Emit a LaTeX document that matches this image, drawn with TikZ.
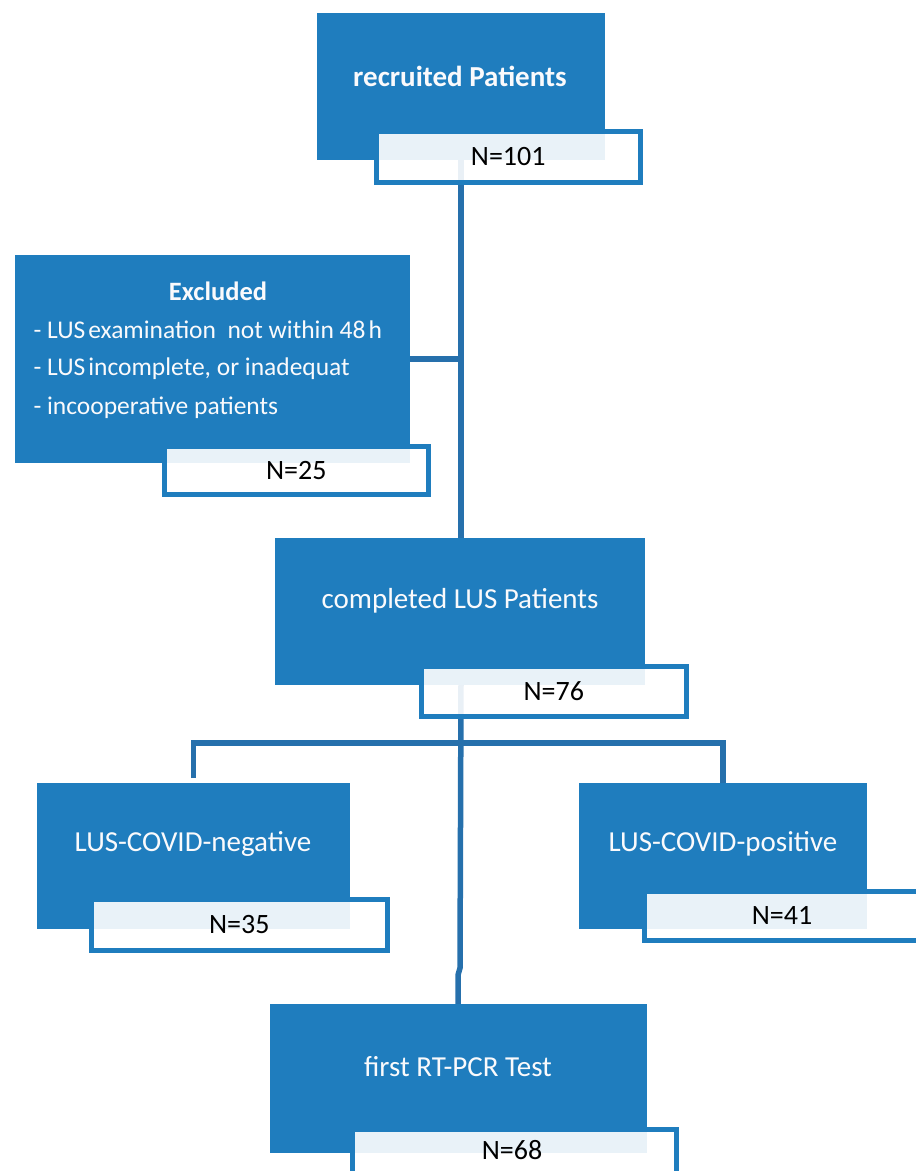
\documentclass[tikz,border=0pt]{standalone}
\usepackage{fontspec}
\setmainfont{Carlito}
\definecolor{boxblue}{RGB}{31,125,190}
\definecolor{lineblue}{RGB}{38,112,172}
\definecolor{txtwhite}{RGB}{250,250,252}
\tikzset{
  bluebox/.style={fill=boxblue, draw=none, inner sep=0pt, anchor=north west},
  nbox/.style={fill=white, fill opacity=0.9, text opacity=1, draw=boxblue, line width=4.5pt, inner sep=0pt, anchor=north west, font=\fontsize{28}{32}\selectfont},
  conn/.style={draw=lineblue, line width=5.5pt},
  btitle/.style={text=txtwhite, font=\fontsize{29}{34}\selectfont\bfseries},
  btext/.style={text=txtwhite, font=\fontsize{29}{34}\selectfont},
  ltext/.style={text=txtwhite, font=\fontsize{25.5}{30}\selectfont, anchor=west},
}
\begin{document}
\begin{tikzpicture}[x=1pt,y=-1pt]
\useasboundingbox (0,0) rectangle (916,1171);
% blue boxes (coordinates only, drawn later)
\path (317,13) node[bluebox, minimum width=288pt, minimum height=147pt] (rec) {};
\path (15,255) node[bluebox, minimum width=395pt, minimum height=208pt] (exc) {};
\path (275,538) node[bluebox, minimum width=370pt, minimum height=147pt] (comp) {};
\path (37,783) node[bluebox, minimum width=313pt, minimum height=146pt] (neg) {};
\path (579,783) node[bluebox, minimum width=288pt, minimum height=146pt] (pos) {};
\path (270,1004) node[bluebox, minimum width=377pt, minimum height=149pt] (rt) {};
% connectors
\coordinate (top) at (461,160);
\coordinate (cmid) at (461,685);
\coordinate (br) at (461,743);
\draw[conn] (top) -- (top |- comp.north);
\draw[conn] (exc.east) -- (exc.east -| top);
\draw[conn, shorten <=5pt] (neg.north) |- (br) -| ([yshift=-5pt]pos.north);
\draw[conn] (cmid) -- (460,968) -- (458,975) -- ([yshift=-5pt]rt.north -| 458,0);
% redraw blue boxes on top of connectors
\path (317,13) node[bluebox, minimum width=288pt, minimum height=147pt] {};
\path (15,255) node[bluebox, minimum width=395pt, minimum height=208pt] {};
\path (275,538) node[bluebox, minimum width=370pt, minimum height=147pt] {};
\path (37,783) node[bluebox, minimum width=313pt, minimum height=146pt] {};
\path (579,783) node[bluebox, minimum width=288pt, minimum height=146pt] {};
\path (270,1004) node[bluebox, minimum width=377pt, minimum height=149pt] {};
% texts
\node[btitle] (trec) at (460,76) {recruited Patients};
\node[btitle, font=\fontsize{26.5}{30}\selectfont\bfseries] (texc) at (218,291) {Excluded};
\node[ltext] (l1) at (30,330) {- LUS\kern3pt examination\ \ not within 48\kern3pt h};
\node[ltext] (l2) at (30,369) {- LUS\kern3pt incomplete, or inadequat};
\node[ltext] (l3) at (30,408) {- incooperative patients};
\node[btext] (tcomp) at (460,601) {completed LUS Patients};
\node[btext] (tneg) at (193,844) {LUS-COVID-negative};
\node[btext] (tpos) at (723,844) {LUS-COVID-positive};
\node[btext] (trt) at (458,1067) {first RT-PCR Test};
% N boxes
\path (374,129) node[nbox, minimum width=264pt, minimum height=51pt] (n101) {N=101};
\path (162,444) node[nbox, minimum width=264pt, minimum height=48pt] (n25) {N=25};
\path (419,664) node[nbox, minimum width=265pt, minimum height=50pt] (n76) {N=76};
\path (89,897) node[nbox, minimum width=296pt, minimum height=51pt] (n35) {N=35};
\path (642,889) node[nbox, minimum width=290pt, minimum height=49pt] (n41) {};
\node[font=\fontsize{28}{32}\selectfont] (t41) at (782,915) {N=41};
\path (350,1127) node[nbox, minimum width=324pt, minimum height=60pt] (n68) {};
\node[font=\fontsize{28}{32}\selectfont] (t68) at (512,1150) {N=68};
\end{tikzpicture}
\end{document}
